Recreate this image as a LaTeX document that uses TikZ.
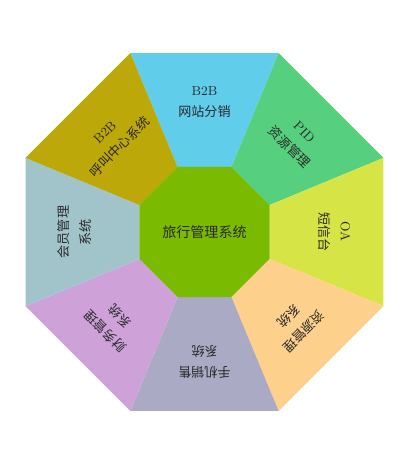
\documentclass[tikz,border=0pt]{standalone}
\usepackage{fontspec}
\newfontfamily\cjk{Noto Sans CJK SC}
\usepackage{xcolor}
\definecolor{cyanTop}{HTML}{60CDEA}
\definecolor{greenPid}{HTML}{56D07E}
\definecolor{limeOa}{HTML}{D6E446}
\definecolor{peachRes}{HTML}{FDD08C}
\definecolor{greyMob}{HTML}{AAAAC4}
\definecolor{lilacFin}{HTML}{CEA2D8}
\definecolor{blueMem}{HTML}{A0C4CA}
\definecolor{oliveCall}{HTML}{BCA808}
\definecolor{greenCore}{HTML}{7ABA00}
\definecolor{inkText}{HTML}{2A2A2A}
\newcommand{\lat}[1]{{\rmfamily #1}}
\tikzset{
  sectortext/.style={align=center, text=inkText, inner sep=0pt,
    font=\cjk\fontsize{9.3}{15}\selectfont},
  coretext/.style={text=inkText, inner sep=0pt,
    font=\cjk\fontsize{10}{12}\selectfont}
}

\begin{document}
\begin{tikzpicture}[x=0.025cm, y=0.025cm]
			\useasboundingbox (-204.5,-229) rectangle (199.5,232);
			\foreach \ang/\col/\name/\txt in {
				90/cyanTop/wangzhan/{\lat{B2B}\\网站分销},
				45/greenPid/pid/{\lat{PID}\\资源管理},
				0/limeOa/duanxin/{\lat{OA}\\短信台},
				-45/peachRes/ziyuan/{资源管理\\系统},
				-90/greyMob/shouji/{手机销售\\系统},
				-135/lilacFin/caiwu/{财务管理\\系统},
				180/blueMem/huiyuan/{会员管理\\系统},
				135/oliveCall/hujiao/{\lat{B2B}\\呼叫中心系统}}
			{
				\fill[\col] (\ang-22.5:193.75) -- (\ang+22.5:193.75)
				-- (\ang+22.5:70.4) -- (\ang-22.5:70.4) -- cycle;
				\node[sectortext, rotate=\ang-90] (\name) at (\ang:130) {\txt};
			}
			% centre
			\fill[greenCore] (22.5:70.4) \foreach \k in {1,...,7} { -- (22.5+45*\k:70.4) } -- cycle;
			\node[coretext] (lvxing) at (0,0) {旅行管理系统};
			
		\end{tikzpicture}
\end{document}
